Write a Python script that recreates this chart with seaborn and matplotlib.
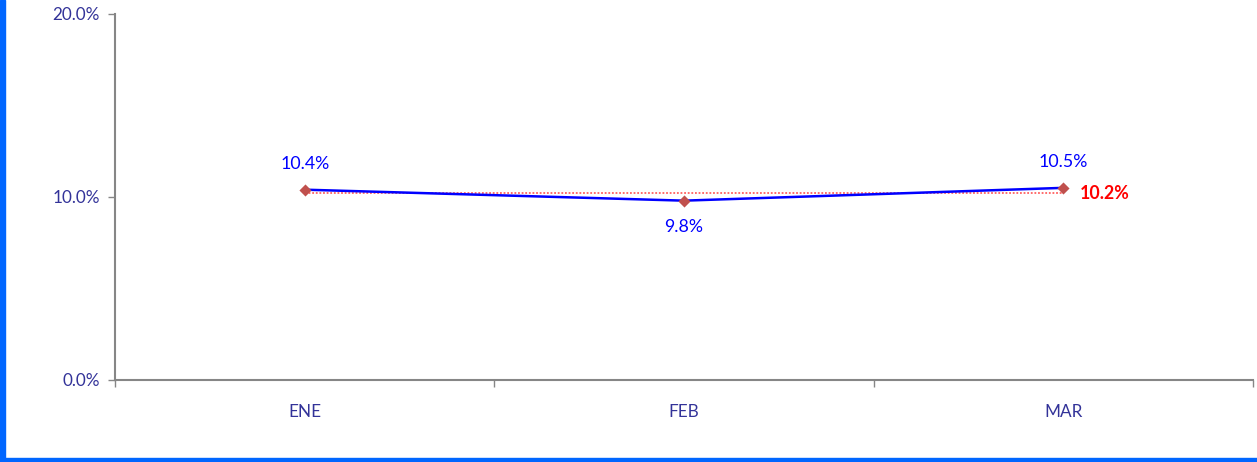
#!/usr/bin/env python3
"""Monthly rate line chart (ENE-MAR) with average reference line."""

import matplotlib
matplotlib.use("Agg")
import matplotlib.pyplot as plt
from matplotlib.patches import Rectangle
from matplotlib.ticker import FixedLocator, PercentFormatter
import seaborn as sns

months = ["ENE", "FEB", "MAR"]
rates = [10.4, 9.8, 10.5]
average = 10.2
y_ticks = [0, 10, 20]


def main() -> int:
    sns.set_style("white")
    plt.rcParams["font.family"] = ["Lato", "DejaVu Sans"]

    fig = plt.figure(figsize=(12.57, 4.62), dpi=100)
    ax = fig.add_axes([0.0915, 0.1775, 0.9053, 0.7922])

    pos = list(range(len(months)))
    ax.plot([pos[0], pos[-1]], [average, average], color="#FF6060",
            linestyle=(0, (1, 1)), linewidth=1.3, zorder=2)
    sns.lineplot(x=pos, y=rates, color="#0000FF", linewidth=1.8, ax=ax,
                 zorder=3)
    sns.scatterplot(x=pos, y=rates, marker="D", s=38, color="#C0504D",
                    edgecolor="#C0504D", linewidth=0, ax=ax, zorder=4)

    label_color = "#0000FF"
    offsets = [13, -13, 13]
    for x, v, dy in zip(pos, rates, offsets):
        ax.annotate(f"{v:.1f}%", (x, v), xytext=(0, dy),
                    textcoords="offset points", ha="center",
                    va="bottom" if dy > 0 else "top",
                    color=label_color, fontsize=12.8)
    ax.annotate(f"{average:.1f}%", (pos[-1], average), xytext=(12, 0),
                textcoords="offset points", ha="left", va="center",
                color="#FF0000", fontsize=12.8, fontweight="bold")

    ax.set_xlim(-0.5, len(months) - 0.5)
    ax.set_ylim(0, 20)

    ax.xaxis.set_major_locator(FixedLocator([-0.5, 0.5, 1.5, 2.5]))
    ax.xaxis.set_minor_locator(FixedLocator(pos))
    ax.set_xticklabels([], minor=False)
    ax.set_xticklabels(months, minor=True)
    ax.tick_params(axis="x", which="major", length=5, width=1,
                   color="#868686", direction="out", bottom=True)
    ax.tick_params(axis="x", which="minor", length=0, pad=17,
                   labelsize=12.3, labelcolor="#333399")

    ax.set_yticks(y_ticks)
    ax.yaxis.set_major_formatter(PercentFormatter(decimals=1))
    ax.tick_params(axis="y", length=5, width=1, color="#868686",
                   direction="out", left=True, labelsize=12.3,
                   labelcolor="#333399", pad=6)

    for side in ["top", "right"]:
        ax.spines[side].set_visible(False)
    for side in ["left", "bottom"]:
        ax.spines[side].set_color("#868686")
        ax.spines[side].set_linewidth(1.5)

    # blue frame strips on left and bottom edges
    fig.patches.append(Rectangle((0, 0), 5 / 1257, 1, transform=fig.transFigure,
                                 color="#0066FF", zorder=10))
    fig.patches.append(Rectangle((0, 0), 1, 4 / 462, transform=fig.transFigure,
                                 color="#0066FF", zorder=10))

    fig.savefig("out.png", dpi=100)
    return 0


if __name__ == "__main__":
    raise SystemExit(main())
